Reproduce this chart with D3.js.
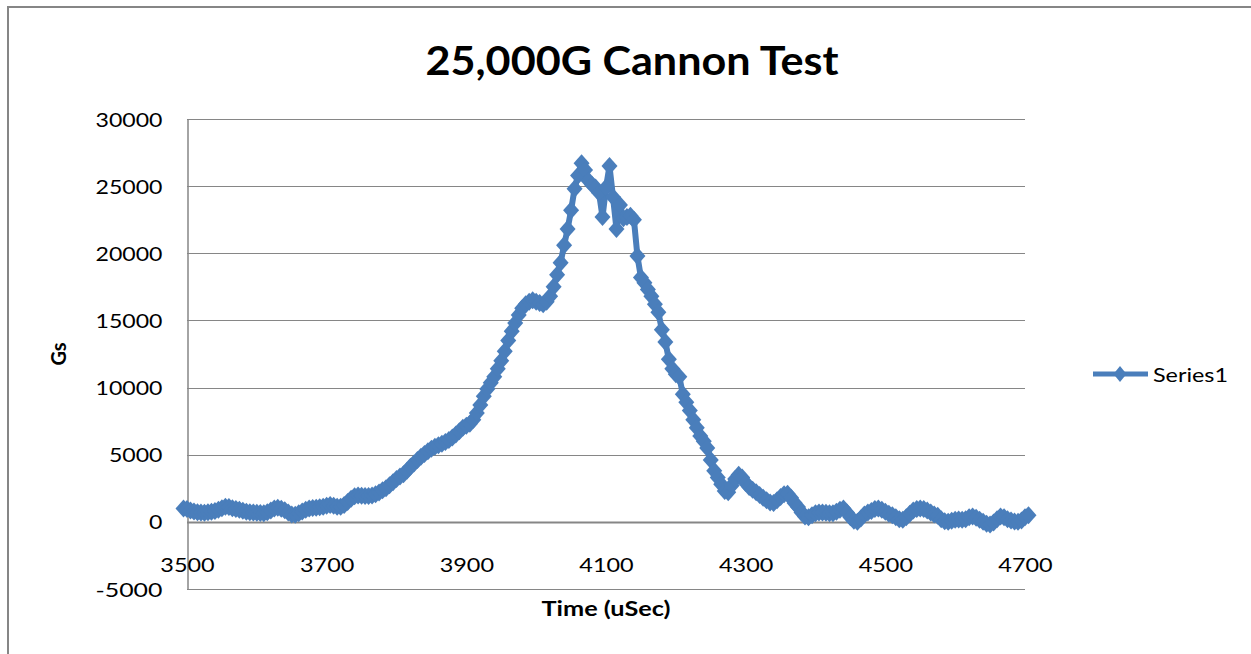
<!DOCTYPE html>
<html>
<head>
<meta charset="utf-8">
<script src="https://cdn.jsdelivr.net/npm/d3@7"></script>
<style>
  html, body { margin: 0; padding: 0; background: #fff; }
  text { font-family: Lato, "Open Sans", sans-serif; fill: #000; }
</style>
</head>
<body>
<div id="main-container"></div>
<script>
// Chart data
const TITLE = '25,000G Cannon Test';
const X_TITLE = 'Time (uSec)';
const Y_TITLE = 'Gs';
const SERIES_NAME = 'Series1';
const X_TICKS = [3500, 3700, 3900, 4100, 4300, 4500, 4700];
const Y_TICKS = [-5000, 0, 5000, 10000, 15000, 20000, 25000, 30000];

// sample times (every 5 uSec, 3495 .. 4705)
const TIME = d3.range(3495, 4706, 5);
// Gs
const GS = [
    1000, 950, 850, 780, 720, 690, 680, 720, 760, 800,
    900, 1020, 1130, 1100, 1020, 950, 900, 830, 760, 720,
    700, 680, 660, 650, 720, 850, 990, 1050, 980, 870,
    700, 540, 520, 640, 780, 900, 990, 1030, 1050, 1080,
    1120, 1200, 1250, 1200, 1120, 1130, 1250, 1480, 1720, 1900,
    1960, 1940, 1920, 1930, 1960, 2050, 2180, 2350, 2500, 2720,
    2950, 3200, 3380, 3550, 3800, 4100, 4350, 4600, 4850, 5050,
    5250, 5450, 5600, 5700, 5820, 5950, 6100, 6280, 6500, 6750,
    7000, 7150, 7300, 7600, 8100, 8700, 9350, 9900, 10350, 10800,
    11400, 12000, 12700, 13500, 14200, 14800, 15400, 15900, 16200, 16400,
    16500, 16400, 16300, 16200, 16400, 16800, 17500, 18400, 19300, 20600,
    21800, 23200, 24800, 25800, 26700, 26200, 25400, 25100, 24900, 24500,
    22700, 24900, 26500, 24200, 21800, 23600, 22600, 22700, 22800, 22500,
    19800, 18200, 17800, 17300, 16800, 16200, 15600, 14300, 13400, 12100,
    11400, 11000, 10800, 9500, 8900, 8300, 7600, 7000, 6400, 6000,
    5500, 4600, 3800, 3300, 2800, 2300, 2200, 2700, 3200, 3500,
    3300, 2900, 2600, 2400, 2200, 2000, 1800, 1600, 1450, 1400,
    1600, 1850, 2050, 2100, 1800, 1400, 1100, 700, 400, 350,
    500, 650, 700, 700, 680, 650, 650, 750, 900, 1000,
    700, 350, 80, 0, 250, 550, 700, 800, 950, 1000,
    900, 750, 600, 500, 350, 200, 150, 350, 600, 850,
    950, 1000, 950, 850, 700, 550, 450, 200, 50, 0,
    80, 150, 180, 150, 200, 350, 400, 300, 150, 0,
    -150, -200, -50, 200, 400, 350, 200, 100, 20, 0,
    100, 350, 500
];

const SVG_WIDTH = 1251;
const SVG_HEIGHT = 654;
const PLOT = { left: 187, right: 1025, top: 119, bottom: 589 };
const BLUE = '#4a7ebb';
const GRID = '#868686';
const DIAMOND = 'M0,-9L8,0L0,9L-8,0Z';
const LEGEND_DIAMOND = 'M0,-8L6.5,0L0,8L-6.5,0Z';

const data = TIME.map((t, i) => ({ t, v: GS[i] })).filter(d => d.v !== undefined);

const SVG = d3.select('#main-container').append('svg')
    .attr('width', SVG_WIDTH)
    .attr('height', SVG_HEIGHT);

SVG.append('rect')
    .attr('width', SVG_WIDTH)
    .attr('height', SVG_HEIGHT)
    .attr('fill', '#fff');

// outer chart border (only left and top show)
SVG.append('path')
    .attr('d', `M8,${SVG_HEIGHT}V7H${SVG_WIDTH}`)
    .attr('fill', 'none')
    .attr('stroke', GRID)
    .attr('stroke-width', 2);

// Scales
const x = d3.scaleLinear().domain([3500, 4700]).range([PLOT.left, PLOT.right]);
const y = d3.scaleLinear().domain([-5000, 30000]).range([PLOT.bottom, PLOT.top]);

// Gridlines
SVG.append('g')
    .selectAll('line')
    .data(Y_TICKS)
    .enter()
    .append('line')
    .attr('x1', PLOT.left)
    .attr('x2', PLOT.right)
    .attr('y1', d => Math.round(y(d)) + 0.5)
    .attr('y2', d => Math.round(y(d)) + 0.5)
    .attr('stroke', GRID)
    .attr('stroke-width', d => d === 0 ? 2 : 1.2);

// Y axis
const yAxis = SVG.append('g')
    .attr('transform', `translate(${PLOT.left + 0.5},0)`)
    .call(d3.axisLeft(y).tickValues(Y_TICKS).tickSize(0).tickPadding(25).tickFormat(d => String(d)));
yAxis.select('.domain').attr('stroke', GRID).attr('stroke-width', 1.5);
yAxis.selectAll('text')
    .style('font-size', '19.5px')
    .attr('dy', '0.36em')
    .attr('textLength', d => String(d).length * 13.4)
    .attr('lengthAdjust', 'spacingAndGlyphs');

// X axis sits on zero, labels hang below
const xAxis = SVG.append('g')
    .attr('transform', `translate(0,${Math.round(y(0)) + 0.5})`)
    .call(d3.axisBottom(x).tickValues(X_TICKS).tickSize(0).tickFormat(d => String(d)));
xAxis.select('.domain').remove();
xAxis.selectAll('text')
    .style('font-size', '19.5px')
    .attr('y', 49)
    .attr('dy', 0)
    .attr('textLength', d => String(d).length * 13.6)
    .attr('lengthAdjust', 'spacingAndGlyphs');

// Series line + markers
const line = d3.line().x(d => x(d.t)).y(d => y(d.v));

SVG.append('path')
    .datum(data)
    .attr('d', line)
    .attr('fill', 'none')
    .attr('stroke', BLUE)
    .attr('stroke-width', 6)
    .attr('stroke-linejoin', 'round');

SVG.append('g')
    .selectAll('path')
    .data(data)
    .enter()
    .append('path')
    .attr('d', DIAMOND)
    .attr('transform', d => `translate(${x(d.t)},${y(d.v)})`)
    .attr('fill', BLUE);

// Titles
SVG.append('text')
    .attr('x', (PLOT.left + PLOT.right) / 2 + 26)
    .attr('y', 75)
    .attr('text-anchor', 'middle')
    .style('font-size', '41px')
    .style('font-weight', 'bold')
    .attr('textLength', 413)
    .attr('lengthAdjust', 'spacingAndGlyphs')
    .text(TITLE);

SVG.append('text')
    .attr('x', (PLOT.left + PLOT.right) / 2)
    .attr('y', 616)
    .attr('text-anchor', 'middle')
    .style('font-size', '20px')
    .style('font-weight', 'bold')
    .attr('textLength', 129)
    .attr('lengthAdjust', 'spacingAndGlyphs')
    .text(X_TITLE);

SVG.append('text')
    .attr('transform', `translate(66,${(PLOT.top + PLOT.bottom) / 2}) rotate(-90)`)
    .attr('text-anchor', 'middle')
    .style('font-size', '20px')
    .style('font-weight', 'bold')
    .text(Y_TITLE);

// Legend
const LEGEND = SVG.append('g').attr('transform', 'translate(1093,374)');
LEGEND.append('line')
    .attr('x1', 0)
    .attr('x2', 55)
    .attr('stroke', BLUE)
    .attr('stroke-width', 5);
LEGEND.append('path')
    .attr('d', LEGEND_DIAMOND)
    .attr('transform', 'translate(27,0)')
    .attr('fill', BLUE);
LEGEND.append('text')
    .attr('x', 60)
    .attr('y', 8)
    .style('font-size', '20px')
    .attr('textLength', 75)
    .attr('lengthAdjust', 'spacingAndGlyphs')
    .text(SERIES_NAME);
</script>
</body>
</html>
